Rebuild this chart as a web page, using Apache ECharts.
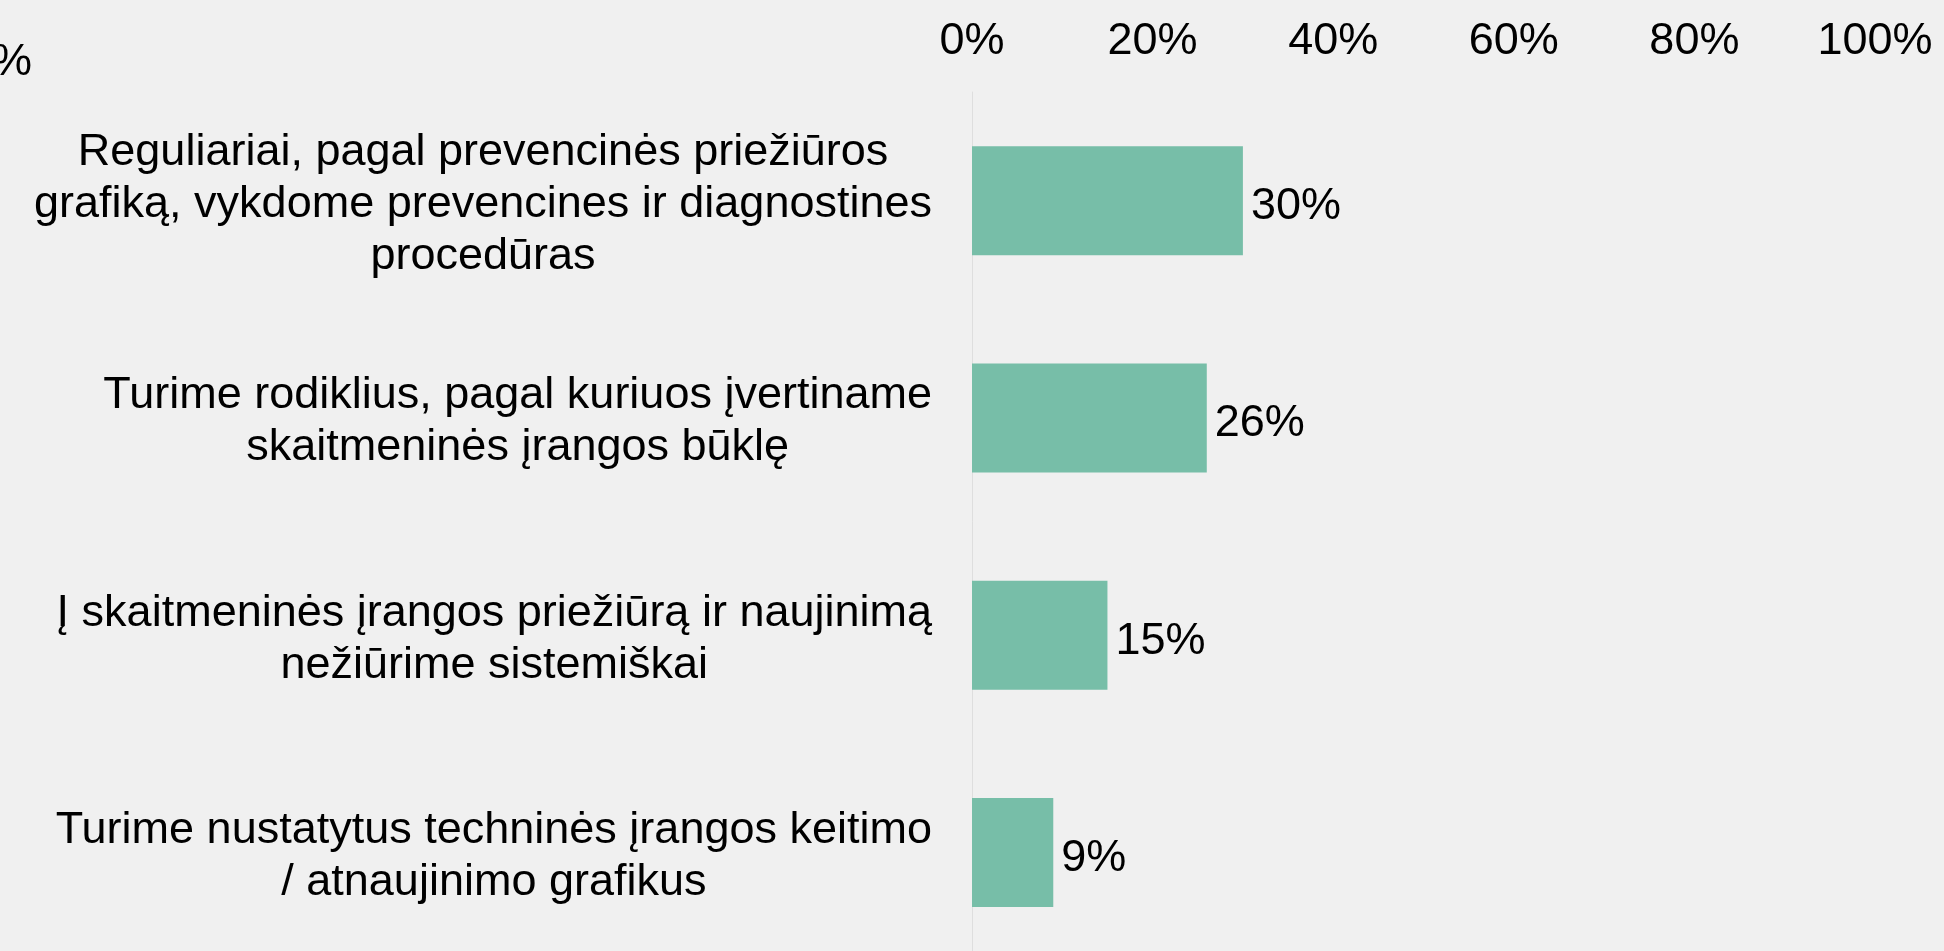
<!DOCTYPE html>
<html>
<head>
<meta charset="utf-8">
<script src="https://cdn.jsdelivr.net/npm/echarts/dist/echarts.min.js"></script>
<style>
    html, body { margin: 0; padding: 0; background: #f0f0f0; }
    #chart { width: 1944px; height: 951px; }
</style>
</head>
<body>
<div id="chart"></div>
<script>
// kategorijos, iš viršaus į apačią
var categories = [
    "Reguliariai, pagal prevencinės priežiūros\ngrafiką, vykdome prevencines ir diagnostines\nprocedūras",
    "Turime rodiklius, pagal kuriuos įvertiname\nskaitmeninės įrangos būklę",
    "Į skaitmeninės įrangos priežiūrą ir naujinimą\nnežiūrime sistemiškai",
    "Turime nustatytus techninės įrangos keitimo\n/ atnaujinimo grafikus"
];
var values = [30, 26, 15, 9];
var axisMin = 0;
var axisMax = 100;
var axisStep = 20;

var font = "'Liberation Sans', Arial, sans-serif";
var chart = echarts.init(document.getElementById("chart"));

const option = {
    backgroundColor: "#f0f0f0",
    animation: false,
    grid: {
        left: 972,
        top: 92,
        width: 903,
        height: 869,
        outerBoundsMode: "none"
    },
    // nupjautas užrašas kairiame viršutiniame kampe
    graphic: [
        {
            type: "text",
            x: 32,
            y: 63,
            style: {
                text: "100%",
                align: "right",
                verticalAlign: "middle",
                fontSize: 45,
                fontFamily: font,
                fill: "#000"
            }
        }
    ],
    xAxis: {
        type: "value",
        position: "top",
        min: axisMin,
        max: axisMax,
        interval: axisStep,
        axisLine: { show: false },
        axisTick: { show: false },
        splitLine: { show: false },
        axisLabel: {
            formatter: "{value}%",
            margin: 28,
            fontSize: 45,
            lineHeight: 45,
            fontFamily: font,
            color: "#000"
        }
    },
    yAxis: {
        type: "category",
        inverse: true,
        data: categories,
        axisLine: { show: true, lineStyle: { color: "#dedede", width: 1 } },
        axisTick: { show: false },
        axisLabel: {
            interval: 0,
            margin: 40,
            padding: [8, 0, 0, 0],
            formatter: function(v) {
                return v
                    .split("\n")
                    .map(function(l) {
                        return "{c|" + l + "}";
                    })
                    .join("\n");
            },
            rich: {
                c: {
                    align: "center",
                    fontSize: 45,
                    lineHeight: 52,
                    fontFamily: font,
                    color: "#000"
                }
            }
        }
    },
    series: [
        {
            type: "bar",
            data: values,
            barWidth: 109,
            itemStyle: { color: "#77bea8" },
            label: {
                show: true,
                position: "right",
                distance: 8,
                offset: [0, 6],
                formatter: "{c}%",
                fontSize: 45,
                fontFamily: font,
                color: "#000"
            }
        }
    ]
};
chart.setOption(option);
</script>
</body>
</html>
